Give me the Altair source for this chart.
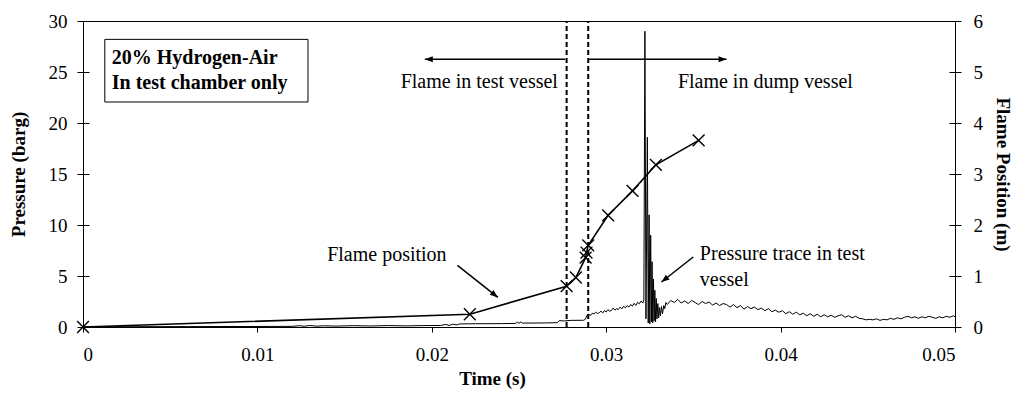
import altair as alt
import pandas as pd

# ---------------- data ----------------
# Pressure trace in test vessel: (time s, pressure barg)
trace_pre = [
    (0.0000, 0.02), (0.0060, 0.04), (0.0120, 0.06), (0.0124, 0.13), (0.0127, 0.07),
    (0.0130, 0.15), (0.0134, 0.08), (0.0138, 0.12), (0.0145, 0.09), (0.0155, 0.13),
    (0.0165, 0.10), (0.0175, 0.14), (0.0185, 0.11), (0.0195, 0.14), (0.0205, 0.15),
    (0.0208, 0.25), (0.0210, 0.15), (0.0212, 0.28), (0.0214, 0.20), (0.0216, 0.30),
    (0.0225, 0.32), (0.0240, 0.33), (0.0248, 0.35), (0.0249, 0.48), (0.0250, 0.36),
    (0.0251, 0.50), (0.0252, 0.38), (0.0265, 0.40), (0.0272, 0.42), (0.0273, 0.62),
    (0.0276, 0.60), (0.0280, 0.65), (0.0287, 0.66),
]
trace_rise = [
    (0.0288, 0.75), (0.0289, 1.15), (0.0290, 1.25), (0.0291, 1.12), (0.0292, 1.35),
    (0.0293, 1.28), (0.0294, 1.45), (0.0295, 1.32), (0.0296, 1.40), (0.0297, 1.55),
    (0.0298, 1.38), (0.0299, 1.60), (0.0300, 1.48), (0.0301, 1.70), (0.0302, 1.55),
    (0.0303, 1.62), (0.0304, 1.85), (0.0305, 1.65), (0.0306, 1.80), (0.0307, 1.72),
    (0.0308, 1.95), (0.0309, 1.78), (0.0310, 2.02), (0.0311, 1.88), (0.0312, 2.10),
    (0.0313, 1.95), (0.0314, 2.20), (0.0315, 2.05), (0.0316, 2.32), (0.0317, 2.12),
    (0.0318, 2.42), (0.0319, 2.28), (0.0320, 2.55), (0.0321, 2.35), (0.03216, 2.65),
]
trace_spike = [
    (0.03222, 29.0), (0.03228, 0.8), (0.03236, 18.6), (0.03241, 0.4), (0.03246, 11.0),
    (0.03250, 0.3), (0.03255, 9.0), (0.03259, 0.5), (0.03263, 6.4), (0.03267, 0.4),
    (0.03271, 4.7), (0.03275, 0.6), (0.03279, 3.6), (0.03283, 0.5), (0.03287, 2.8),
    (0.03291, 0.8), (0.03296, 2.3), (0.03301, 0.9), (0.03306, 1.9), (0.03311, 1.1),
    (0.03317, 2.0), (0.03323, 1.3), (0.03330, 2.1), (0.03336, 1.8), (0.03342, 2.4),
]
trace_decay = [
    (0.0335, 2.20), (0.0337, 2.60), (0.0339, 2.40), (0.0341, 2.70), (0.0343, 2.35),
    (0.0345, 2.55), (0.0347, 2.30), (0.0349, 2.60), (0.0351, 2.40), (0.0353, 2.20),
    (0.0355, 2.50), (0.0357, 2.30), (0.0359, 2.45), (0.0361, 2.15), (0.0363, 2.35),
    (0.0365, 2.10), (0.0367, 2.30), (0.0369, 2.20), (0.0371, 1.95), (0.0373, 2.20),
    (0.0375, 1.90), (0.0377, 2.10), (0.0379, 1.75), (0.0381, 2.00), (0.0383, 1.80),
    (0.0385, 1.95), (0.0387, 1.70), (0.0389, 1.85), (0.0391, 1.60), (0.0393, 1.80),
    (0.0395, 1.50), (0.0397, 1.65), (0.0399, 1.45), (0.0401, 1.60), (0.0403, 1.30),
    (0.0405, 1.50), (0.0407, 1.25), (0.0409, 1.45), (0.0411, 1.20), (0.0413, 1.35),
    (0.0415, 1.10), (0.0417, 1.30), (0.0419, 1.05), (0.0421, 1.25), (0.0423, 1.00),
    (0.0425, 1.20), (0.0427, 1.00), (0.0429, 1.15), (0.0431, 0.95), (0.0433, 1.10),
    (0.0435, 1.20), (0.0437, 0.95), (0.0439, 1.10), (0.0441, 0.90), (0.0443, 1.05),
    (0.0445, 0.85), (0.0447, 0.80), (0.0449, 0.70), (0.0451, 0.75), (0.0453, 0.70),
    (0.0455, 0.80), (0.0457, 0.65), (0.0459, 0.75), (0.0461, 0.70), (0.0463, 0.85),
    (0.0465, 0.75), (0.0467, 0.90), (0.0469, 0.80), (0.0471, 0.95), (0.0473, 1.05),
    (0.0475, 0.90), (0.0477, 1.00), (0.0479, 0.85), (0.0481, 1.00), (0.0483, 0.90),
    (0.0485, 1.05), (0.0487, 0.95), (0.0489, 0.85), (0.0491, 1.00), (0.0493, 0.90),
    (0.0495, 1.05), (0.0497, 0.95), (0.0499, 1.10), (0.0500, 1.00),
]

# Flame position (time s, position m)
flame_t = [0.0, 0.02218, 0.02773, 0.02826, 0.02882, 0.02887, 0.02897, 0.03011, 0.03151, 0.03285, 0.0353]
flame_m = [0.0, 0.25, 0.80, 0.97, 1.36, 1.46, 1.60, 2.19, 2.67, 3.18, 3.66]

# Dashed markers for the vessel boundary
dashed_t = [0.02773, 0.02897]

# Arrows: start (t, P), end (t, P), head angle
arrow_t1 = [0.02765, 0.02902, 0.02147, 0.03499]
arrow_p1 = [26.25, 26.25, 6.05, 6.86]
arrow_t2 = [0.0196, 0.0369, 0.02379, 0.03317]
arrow_p2 = [26.25, 26.25, 2.90, 4.41]
arrow_ang = [180, 0, 38.5, 141.6]

# Annotation text
note_text = ["Flame in test vessel", "Flame in dump vessel", "Flame position",
             "Pressure trace in test", "vessel"]
note_t = [0.02723, 0.03411, 0.0140, 0.03537, 0.03537]
note_p = [24.0, 24.0, 7.1, 7.2, 4.6]
note_align = ["right", "left", "left", "left", "left"]

box_lines = ["20% Hydrogen-Air", "In test chamber only"]
box_line_p = [26.35, 23.9]
box_text_t = 0.00165
box_t = [0.00125, 0.0129]
box_p = [28.2, 22.06]

x_ticks = [0, 0.01, 0.02, 0.03, 0.04, 0.05]
p_ticks = [0, 5, 10, 15, 20, 25, 30]
m_ticks = [0, 1, 2, 3, 4, 5, 6]

# ---------------- build tables ----------------
trace_rows = trace_pre + trace_rise + trace_spike + trace_decay
trace_df = pd.DataFrame(trace_rows, columns=["t", "P"])
flame_df = pd.DataFrame({"t": flame_t, "m": flame_m})
dash_df = pd.DataFrame({"t": dashed_t, "P": [0] * len(dashed_t), "P2": [30] * len(dashed_t)})
arrow_df = pd.DataFrame({"t": arrow_t1, "P": arrow_p1, "t2": arrow_t2, "P2": arrow_p2, "ang": arrow_ang})
head_df = pd.DataFrame({"t": arrow_t2, "P": arrow_p2, "ang": arrow_ang})
note_df = pd.DataFrame({"t": note_t, "P": note_p, "label": note_text, "al": note_align})
box_df = pd.DataFrame({"t": [box_t[0]], "t2": [box_t[1]], "P": [box_p[0]], "P2": [box_p[1]]})
boxtext_df = pd.DataFrame({"t": [box_text_t] * 2, "P": box_line_p, "label": box_lines})

FONT = "Liberation Serif"

x_axis = alt.Axis(values=x_ticks, title="Time (s)", tickSize=5, labelPadding=13,
                  titlePadding=5, titleX=409, titleAlign="center",
                  labelExpr="datum.value == 0 ? '0' : format(datum.value, '.2f')")
x_enc = alt.X("t:Q", scale=alt.Scale(domain=[0, 0.05], nice=False, zero=False), axis=x_axis)
p_axis = alt.Axis(values=p_ticks, title="Pressure (barg)", orient="left", offset=-6, tickSize=12,
                  domain=False, labelPadding=10, titlePadding=20)
p_enc = alt.Y("P:Q", scale=alt.Scale(domain=[0, 30], nice=False), axis=p_axis)

trace = alt.Chart(trace_df).mark_line(color="black", strokeWidth=1, interpolate="linear").encode(
    x=x_enc, y=p_enc, order="t:Q")

dashes = alt.Chart(dash_df).mark_rule(color="black", strokeWidth=2, strokeDash=[5, 3]).encode(
    x=x_enc, y=p_enc, y2="P2:Q")

arrows = alt.Chart(arrow_df).mark_rule(color="black", strokeWidth=1.5).encode(
    x=x_enc, x2="t2:Q", y=p_enc, y2="P2:Q")

heads = alt.Chart(head_df).mark_point(shape="M0,0L-1,-0.38L-1,0.38Z", filled=True, fill="black",
                                      strokeWidth=0, size=256, opacity=1).encode(
    x=x_enc, y=p_enc, angle=alt.Angle("ang:Q", scale=None))

notes_left = alt.Chart(note_df).transform_filter("datum.al == 'left'").mark_text(
    font=FONT, fontSize=20, align="left", baseline="middle", color="black").encode(
    x=x_enc, y=p_enc, text="label:N")
notes_right = alt.Chart(note_df).transform_filter("datum.al == 'right'").mark_text(
    font=FONT, fontSize=20, align="right", baseline="middle", color="black").encode(
    x=x_enc, y=p_enc, text="label:N")

box = alt.Chart(box_df).mark_rect(fill="white", stroke="black", strokeWidth=1).encode(
    x=x_enc, x2="t2:Q", y=p_enc, y2="P2:Q")
box_text = alt.Chart(boxtext_df).mark_text(font=FONT, fontSize=20, fontWeight="bold", align="left",
                                           baseline="middle", color="black").encode(
    x=x_enc, y=p_enc, text="label:N")

pressure_layer = alt.layer(trace, dashes, arrows, heads, notes_left, notes_right, box, box_text)

m_axis = alt.Axis(values=m_ticks, title="Flame Position (m)", orient="right", offset=-6, tickSize=12,
                  domain=False, labelPadding=12, titlePadding=10)
m_enc = alt.Y("m:Q", scale=alt.Scale(domain=[0, 6], nice=False), axis=m_axis)

flame_line = alt.Chart(flame_df).mark_line(color="black", strokeWidth=1.6).encode(x=x_enc, y=m_enc)
flame_pts = alt.Chart(flame_df).mark_point(shape="M-1,-1L1,1M-1,1L1,-1", filled=False, color="black",
                                           strokeWidth=1.4, size=140, opacity=1).encode(x=x_enc, y=m_enc)
flame_layer = alt.layer(flame_line, flame_pts)

chart = alt.layer(pressure_layer, flame_layer).resolve_scale(y="independent").properties(
    width=872, height=306,
    autosize=alt.AutoSizeParams(type="none"),
    padding={"left": 75, "top": 13, "right": 65, "bottom": 63},
    background="white",
).configure(font=FONT).configure_view(stroke="black", strokeWidth=1).configure_axis(
    grid=False, labelFont=FONT, labelFontSize=19, labelColor="black",
    titleFont=FONT, titleFontSize=19, titleFontWeight="bold", titleColor="black",
    domainColor="black", tickColor="black", tickWidth=1, domainWidth=1,
)

chart.save("out.html", embed_options={"renderer": "svg", "actions": False})
